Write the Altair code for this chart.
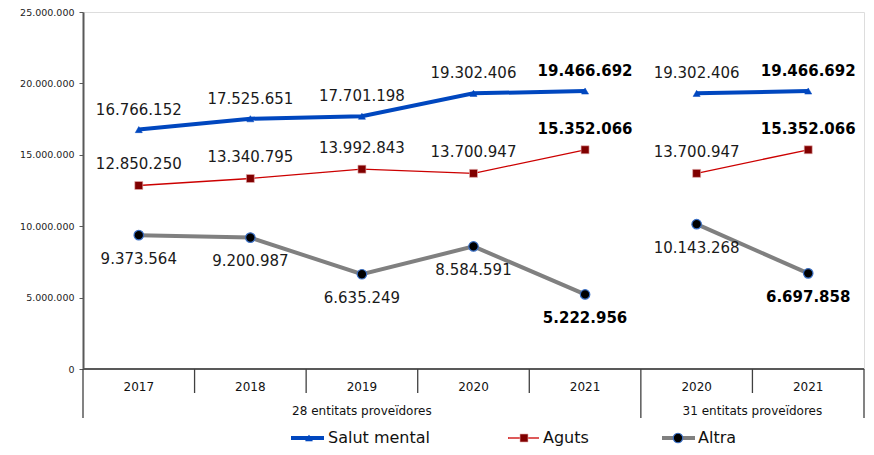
import altair as alt
import pandas as pd

categories = ["2017", "2018", "2019", "2020", "2021", "2020", "2021"]
groups = ["28 entitats proveïdores"] * 5 + ["31 entitats proveïdores"] * 2
salut = [16766152, 17525651, 17701198, 19302406, 19466692, 19302406, 19466692]
aguts = [12850250, 13340795, 13992843, 13700947, 15352066, 13700947, 15352066]
altra = [9373564, 9200987, 6635249, 8584591, 5222956, 10143268, 6697858]
bold_flags = [False, False, False, False, True, False, True]
series_names = ["Salut mental", "Aguts", "Altra"]
y_ticks = [0, 5000000, 10000000, 15000000, 20000000, 25000000]

FONT = "DejaVu Sans"
BLUE = "#0047BF"
RED = "#CC0000"
DARKRED = "#800000"
GRAY = "#808080"

rows = []
for i, (c, g) in enumerate(zip(categories, groups)):
    for name, vals in zip(series_names, [salut, aguts, altra]):
        rows.append(dict(idx=i, cat=c, grp=g, series=name, value=vals[i],
                         label=f"{vals[i]:,}".replace(",", "."), bold=bold_flags[i]))
df = pd.DataFrame(rows)

TOP = 4
LEFT = 75
W, H = 781, 357

xenc = alt.X("idx:Q", scale=alt.Scale(domain=[-0.5, 6.5], nice=False, zero=False), axis=None)
yenc = alt.Y("value:Q", scale=alt.Scale(domain=[0, 25000000], nice=False),
             axis=alt.Axis(values=y_ticks, title=None, grid=False,
                           labelExpr="replace(replace(replace(format(datum.value, ','), ',', '.'), ',', '.'), ',', '.')",
                           labelFont=FONT, labelFontSize=9.5, labelColor="#222222",
                           labelPadding=5, tickSize=4, tickColor="#595959", tickWidth=1,
                           domainColor="#595959", domainWidth=2))

base = alt.Chart(df).encode(x=xenc, y=yenc)

layers = []
# bottom axis line
layers.append(alt.Chart(pd.DataFrame({"v": [0]})).mark_rule(color="#595959", strokeWidth=2).encode(
    x=alt.value(0), x2=alt.value(W), y=alt.value(H)))

def series_layers(name, color, sw, shape, size, fill, stroke, pstroke_w, dy):
    sub = base.transform_filter(alt.datum.series == name)
    out = []
    out.append(sub.mark_line(color=color, strokeWidth=sw).encode(detail="grp:N"))
    out.append(sub.mark_point(shape=shape, size=size, filled=True, fill=fill, stroke=stroke,
                              strokeWidth=pstroke_w, opacity=1))
    out.append(sub.transform_filter(alt.datum.bold == False).mark_text(
        font=FONT, fontSize=15, color="#1a1a1a", dy=dy, baseline="middle", align="center").encode(text="label:N"))
    out.append(sub.transform_filter(alt.datum.bold == True).mark_text(
        font=FONT, fontSize=15, fontWeight="bold", color="#000000", dy=dy, baseline="middle", align="center").encode(text="label:N"))
    return out

layers += series_layers("Salut mental", BLUE, 4, "triangle-up", 50, BLUE, BLUE, 0.5, -20)
layers += series_layers("Aguts", RED, 1.3, "square", 64, DARKRED, "#e8b0b0", 0.6, -21)
layers += series_layers("Altra", GRAY, 4, "circle", 90, "#000000", "#3A6FC4", 1.2, 23.5)

# category axis (custom two-row)
short_b = pd.DataFrame({"b": [0.5, 1.5, 2.5, 3.5, 5.5]})
long_b = pd.DataFrame({"b": [-0.5, 4.5, 6.5]})
bx = alt.X("b:Q", scale=alt.Scale(domain=[-0.5, 6.5], nice=False, zero=False), axis=None)
layers.append(alt.Chart(short_b).mark_rule(color="#404040", strokeWidth=1.3).encode(
    x=bx, y=alt.value(H), y2=alt.value(H + 24)))
layers.append(alt.Chart(long_b).mark_rule(color="#404040", strokeWidth=1.3).encode(
    x=bx, y=alt.value(H), y2=alt.value(H + 49)))

cat_df = pd.DataFrame({"idx": list(range(len(categories))), "cat": categories})
layers.append(alt.Chart(cat_df).mark_text(font=FONT, fontSize=12, color="#111111", baseline="middle").encode(
    x=xenc, y=alt.value(H + 18), text="cat:N"))

grp_df = pd.DataFrame({"idx": [2.0, 5.5], "grp": [groups[0], groups[-1]]})
layers.append(alt.Chart(grp_df).mark_text(font=FONT, fontSize=12, color="#111111", baseline="middle").encode(
    x=xenc, y=alt.value(H + 42), text="grp:N"))

# custom legend
one = pd.DataFrame({"v": [0]})
LY = H + 69
OFF = 85 - 8 - LEFT
leg = [
    ("Salut mental", BLUE, 4, "triangle-up", 50, BLUE, BLUE, 0.5, 206, 239, 224, 243),
    ("Aguts", RED, 1.3, "square", 64, DARKRED, "#e8b0b0", 0.6, 423, 454, 439, 458),
    ("Altra", GRAY, 4, "circle", 90, "#000000", "#3A6FC4", 1.2, 577, 610, 593, 613),
]
for name, color, sw, shape, size, fill, stroke, psw, x1, x2, xm, xt in leg:
    layers.append(alt.Chart(one).mark_rule(color=color, strokeWidth=sw).encode(
        x=alt.value(x1 + OFF), x2=alt.value(x2 + OFF), y=alt.value(LY)))
    layers.append(alt.Chart(one).mark_point(shape=shape, size=size, filled=True, fill=fill, stroke=stroke,
                                            strokeWidth=psw, opacity=1).encode(x=alt.value(xm + OFF), y=alt.value(LY)))
    layers.append(alt.Chart(one).mark_text(font=FONT, fontSize=16, color="#111111", align="left",
                                           baseline="middle", text=name).encode(x=alt.value(xt + OFF), y=alt.value(LY)))

chart = alt.layer(*layers).properties(
    width=W, height=H,
    autosize=alt.AutoSizeParams(type="none"),
    padding={"left": LEFT, "top": TOP, "right": 2, "bottom": 78},
).configure_view(stroke="#d9d9d9", strokeWidth=1).configure(background="white")

chart.save("out.html", embed_options={"renderer": "svg", "actions": False})
